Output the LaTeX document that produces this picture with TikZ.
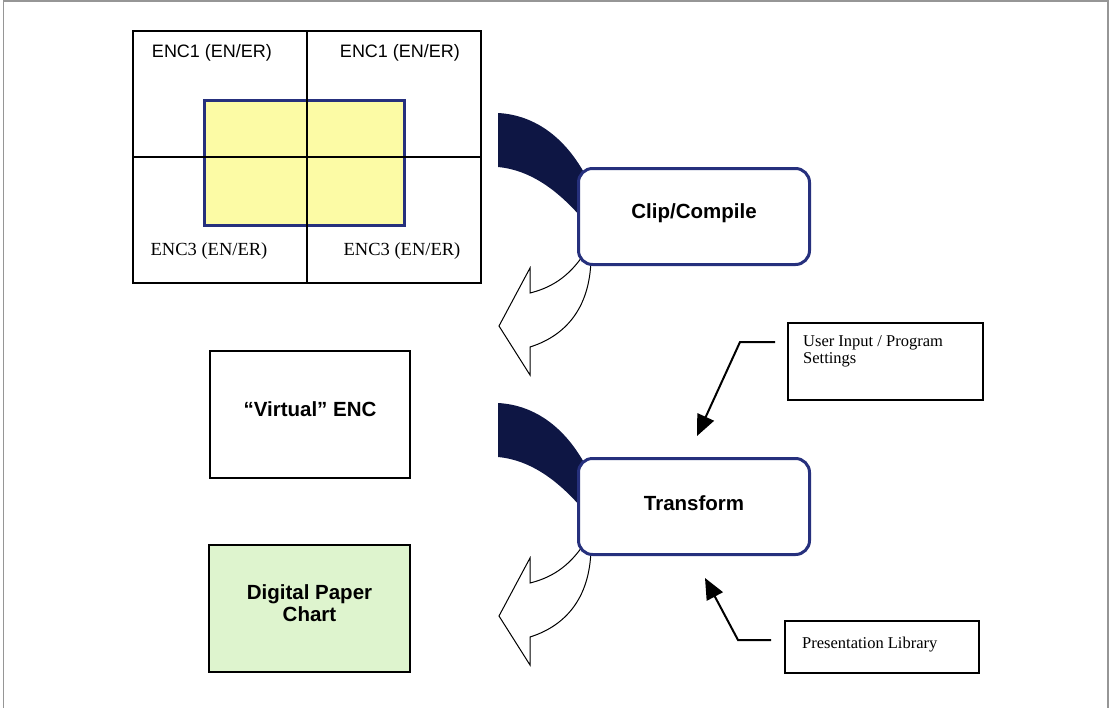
\documentclass[tikz,border=0pt]{standalone}
\usepackage{fontspec}
\setmainfont{Liberation Serif}
\setsansfont{Liberation Sans}
\usetikzlibrary{arrows.meta}

\definecolor{navyband}{RGB}{14,22,68}
\definecolor{navyedge}{RGB}{38,48,125}
\definecolor{chartyellow}{RGB}{252,251,165}
\definecolor{papergreen}{RGB}{222,244,206}
\definecolor{framegray}{RGB}{150,150,150}

\tikzset{
  cellbox/.style={draw=black, line width=1.6pt, inner sep=0pt, outer sep=0pt, anchor=north west},
  overlapbox/.style={draw=navyedge, line width=3pt, fill=chartyellow, inner sep=0pt, anchor=north west},
  procbox/.style={draw=navyedge, line width=3pt, fill=white, rounded corners=14pt, inner sep=0pt,
    anchor=north west},
  chartbox/.style={draw=black, line width=2pt, inner sep=0pt, anchor=north west},
  boldtext/.style={inner sep=0pt, align=center, font=\sffamily\bfseries\fontsize{20.5}{22}\selectfont},
  notebox/.style={draw=black, line width=1.5pt, fill=white, inner sep=0pt, anchor=north west},
  notetext/.style={inner sep=0pt, align=left, font=\fontsize{16.5}{17}\selectfont},
  enclabel/.style={inner sep=0pt},
  callout/.style={draw=black, line width=2pt, -{Triangle[length=21pt,width=18pt]}},
  pics/bentarrow/.style={code={
    % shaded back of the curved band
    \fill[navyband] (498,113) .. controls (535,115) and (568,138) .. (590,184)
      -- (590,228) .. controls (560,190) and (530,170) .. (498,167) -- cycle;
    % front of the band ending in the arrowhead
    \filldraw[fill=white, draw=black, line width=1pt, line join=miter]
      (584,254) .. controls (568,278) and (550,288) .. (530,293)
      -- (530,268) -- (499,326) -- (530,375) -- (530,347)
      .. controls (568,335) and (591,305) .. (591,256) -- cycle;
  }}
}

\begin{document}
\begin{tikzpicture}[x=1pt, y=-1pt]
  \useasboundingbox (0,0) rectangle (1114,707);
  \draw[framegray, line width=1.2pt] (3.5,712) -- (3.5,1) -- (1108,1) -- (1108,712);

  % four neighbouring cells with the overlapping area
  \node[overlapbox, minimum width=200pt, minimum height=125pt] (overlap) at (203,99) {};
  \node[cellbox, minimum width=348pt, minimum height=252pt] (grid) at (133,31) {};
  \draw[line width=1.6pt] (grid.north) -- (grid.south);
  \draw[line width=1.6pt] (grid.west) -- (grid.east);
  \node[enclabel, font=\sffamily\fontsize{18}{20}\selectfont] (enc1a) at (212,53) {ENC1 (EN/ER)};
  \node[enclabel, font=\sffamily\fontsize{18}{20}\selectfont] (enc1b) at (400,53) {ENC1 (EN/ER)};
  \node[enclabel, font=\fontsize{18.5}{20}\selectfont] (enc3a) at (209,251) {ENC3 (EN/ER)};
  \node[enclabel, font=\fontsize{18.5}{20}\selectfont] (enc3b) at (402,251) {ENC3 (EN/ER)};

  % curved process arrows
  \pic at (0,0) {bentarrow};
  \pic at (0,290) {bentarrow};

  % process steps
  \node[procbox, minimum width=231pt, minimum height=96pt] (clip) at (577,167) {};
  \node[boldtext] (cliptext) at ([yshift=3pt]clip.center) {Clip/Compile};
  \node[procbox, minimum width=231pt, minimum height=96pt] (transform) at (577,457) {};
  \node[boldtext] (transformtext) at ([yshift=3.5pt]transform.center) {Transform};

  % intermediate and final products
  \node[chartbox, minimum width=200pt, minimum height=127pt] (virtual) at (209,350) {};
  \node[boldtext] (virtualtext) at ([yshift=5pt]virtual.center) {“Virtual” ENC};
  \node[chartbox, fill=papergreen, minimum width=201pt, minimum height=127pt] (paper) at (208,544) {};
  \node[boldtext] (papertext) at ([yshift=5pt]paper.center) {Digital Paper\\Chart};

  % inputs to the transform step
  \node[notebox, minimum width=195pt, minimum height=77pt] (settings) at (787,322) {};
  \node[notetext, anchor=north west] (settingstext) at (803,335) {User Input / Program\\Settings};
  \node[notebox, minimum width=194pt, minimum height=52pt] (library) at (784,620) {};
  \node[notetext, anchor=west] (librarytext) at (802,645) {Presentation Library};

  \coordinate (setA) at (775,342);
  \coordinate (setB) at (740,342);
  \coordinate (setTip) at (697,436);
  \draw[callout] (setA) -- (setB) -- (setTip);

  \coordinate (libA) at (771,640);
  \coordinate (libB) at (738,640);
  \coordinate (libTip) at (705,578);
  \draw[callout] (libA) -- (libB) -- (libTip);
\end{tikzpicture}
\end{document}
